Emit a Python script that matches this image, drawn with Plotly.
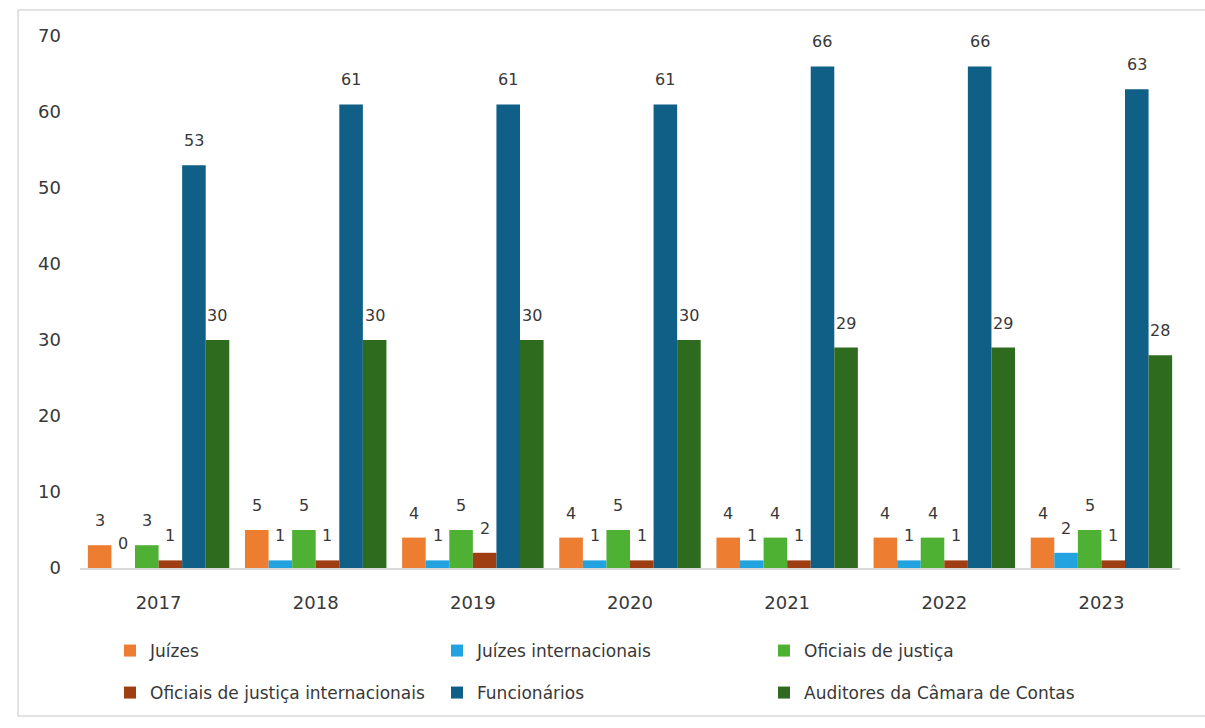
import plotly.graph_objects as go

anos = ["2017", "2018", "2019", "2020", "2021", "2022", "2023"]
juizes = [3, 5, 4, 4, 4, 4, 4]
juizes_internacionais = [0, 1, 1, 1, 1, 1, 2]
oficiais_justica = [3, 5, 5, 5, 4, 4, 5]
oficiais_justica_internacionais = [1, 1, 2, 1, 1, 1, 1]
funcionarios = [53, 61, 61, 61, 66, 66, 63]
auditores = [30, 30, 30, 30, 29, 29, 28]

series = [
    ("Juízes", juizes, "#ED7D31"),
    ("Juízes internacionais", juizes_internacionais, "#22A2DE"),
    ("Oficiais de justiça", oficiais_justica, "#4FB133"),
    ("Oficiais de justiça internacionais", oficiais_justica_internacionais, "#9E3E12"),
    ("Funcionários", funcionarios, "#0F5F86"),
    ("Auditores da Câmara de Contas", auditores, "#2E6B1F"),
]

font_family = "DejaVu Sans, Liberation Sans, sans-serif"
text_color = "#383838"

W, H = 1205, 728
ML, MR, MT, MB = 80, 25, 36, 160
BARGAP = 0.1
plot_w = W - ML - MR
slot = plot_w / len(anos)
bar_w = slot * (1 - BARGAP) / len(series)

fig = go.Figure()
annotations = []
for i, (name, vals, color) in enumerate(series):
    fig.add_trace(go.Bar(
        name=name, x=anos, y=vals,
        marker=dict(color=color, line=dict(width=0)),
        legend="legend" if i < 3 else "legend2",
    ))
    for j, v in enumerate(vals):
        annotations.append(dict(
            x=j, y=v, xref="x", yref="y", text=str(v), showarrow=False,
            xanchor="center", yanchor="bottom",
            xshift=(i - (len(series) - 1) / 2) * bar_w, yshift=13,
            font=dict(family=font_family, size=16, color=text_color),
        ))

leg_common = dict(
    orientation="h", xanchor="left", yanchor="middle",
    entrywidth=282, entrywidthmode="pixels",
    font=dict(family=font_family, size=17, color=text_color),
    traceorder="normal", itemwidth=30, bgcolor="rgba(0,0,0,0)",
)

fig.update_layout(
    width=W, height=H,
    barmode="group", bargap=BARGAP, bargroupgap=0,
    plot_bgcolor="white", paper_bgcolor="white",
    margin=dict(l=ML, r=MR, t=MT, b=MB),
    font=dict(family=font_family, size=17, color=text_color),
    showlegend=True,
    legend=dict(x=(110 - ML) / plot_w, y=(568 - 651) / 532, **leg_common),
    legend2=dict(x=(110 - ML) / plot_w, y=(568 - 693) / 532, **leg_common),
    xaxis=dict(type="category", range=[-0.5, len(anos) - 0.5], showgrid=False,
               showline=True, linecolor="#d9d9d9",
               linewidth=1.5, ticks="", ticklabelstandoff=18,
               tickfont=dict(family=font_family, size=18, color=text_color)),
    yaxis=dict(range=[0, 70], dtick=10, showgrid=False, zeroline=False,
               showline=False, ticks="", ticklabelstandoff=18,
               tickfont=dict(family=font_family, size=18, color=text_color)),
    annotations=annotations,
    shapes=[dict(type="rect", xref="paper", yref="paper",
                 x0=(18 - ML) / plot_w, x1=(1210 - ML) / plot_w,
                 y0=(568 - 716) / 532, y1=(568 - 10) / 532,
                 line=dict(color="#d9d9d9", width=1.5), layer="below")],
)

fig.write_html("out.html")
